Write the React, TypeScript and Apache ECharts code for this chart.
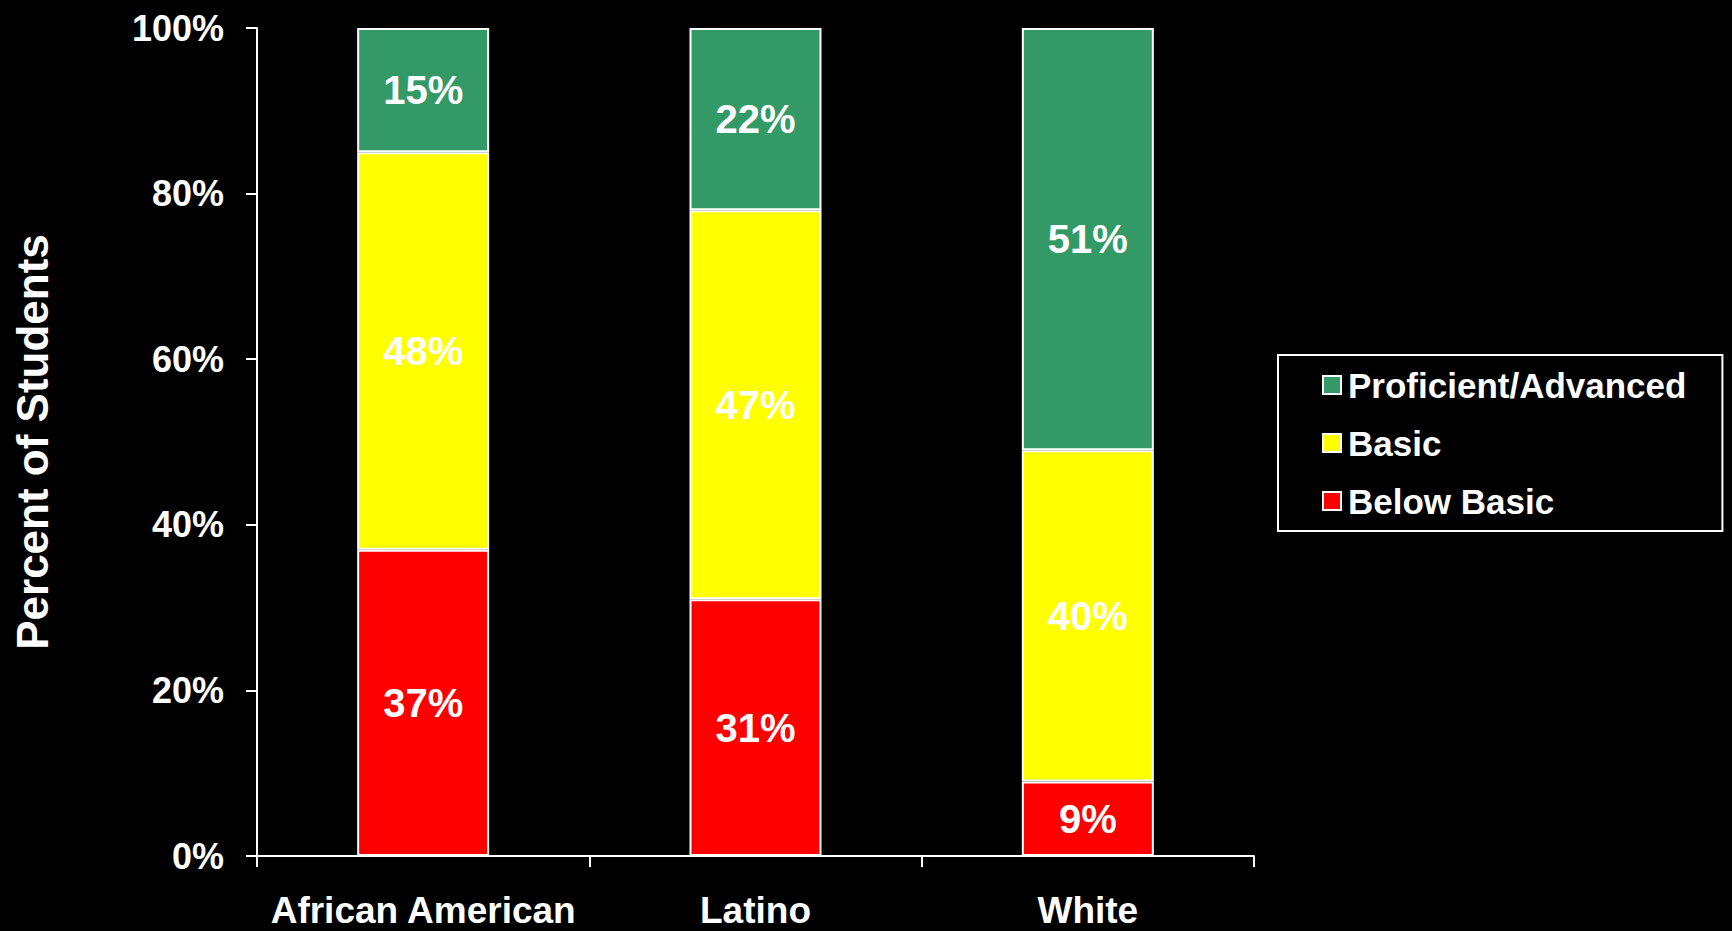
import React, { useEffect, useRef } from "react";
import * as echarts from "echarts";

const categories = ["African American", "Latino", "White"];
const belowBasic = [37, 31, 9];
const basic = [48, 47, 40];
const proficient = [15, 22, 51];
const yTicks = [0, 20, 40, 60, 80, 100];

const FONT = "'Liberation Sans', Arial, sans-serif";

export default function App() {
  const ref = useRef<HTMLDivElement>(null);
  useEffect(() => {
    document.body.style.background = "#000";
    const chart = echarts.init(ref.current!, null, { renderer: "svg" });
    const label = {
      show: true,
      position: "inside",
      color: "#fff",
      fontFamily: FONT,
      fontWeight: "bold",
      fontSize: 40,
      formatter: (p: any) => p.value + "%",
    };
    const mk = (name: string, data: number[], color: string) => ({
      name,
      type: "bar",
      stack: "total",
      data,
      barWidth: 132,
      itemStyle: { color, borderColor: "#fff", borderWidth: 2 },
      label,
    });
    chart.setOption({
      animation: false,
      backgroundColor: "#000",
      grid: { left: 257, right: 478, top: 28, bottom: 75 },
      legend: {
        orient: "vertical",
        left: 1278,
        top: 355,
        data: ["Proficient/Advanced", "Basic", "Below Basic"],
        icon: "rect",
        itemWidth: 18,
        itemHeight: 18,
        itemGap: 22,
        borderColor: "#fff",
        borderWidth: 2,
        borderRadius: 0,
        padding: [12, 36, 12, 44],
        itemStyle: { borderColor: "#fff", borderWidth: 2 },
        textStyle: {
          color: "#fff",
          fontFamily: FONT,
          fontWeight: "bold",
          fontSize: 35,
          lineHeight: 36,
          padding: [0, 0, 0, 2],
        },
      },
      xAxis: {
        type: "category",
        data: categories,
        axisLine: { lineStyle: { color: "#fff", width: 2 } },
        axisTick: { show: true, length: 11, lineStyle: { color: "#fff", width: 2 } },
        axisLabel: {
          interval: 0,
          hideOverlap: false,
          color: "#fff",
          fontFamily: FONT,
          fontWeight: "bold",
          fontSize: 37,
          margin: 36,
        },
      },
      yAxis: {
        type: "value",
        min: 0,
        max: 100,
        interval: 20,
        name: "Percent of Students",
        nameLocation: "middle",
        nameGap: 203,
        nameTextStyle: {
          color: "#fff",
          fontFamily: FONT,
          fontWeight: "bold",
          fontSize: 44,
        },
        axisLine: { show: true, lineStyle: { color: "#fff", width: 2 } },
        axisTick: { show: true, length: 11, lineStyle: { color: "#fff", width: 2 } },
        splitLine: { show: false },
        axisLabel: {
          color: "#fff",
          fontFamily: FONT,
          fontWeight: "bold",
          fontSize: 36,
          margin: 33,
          formatter: (v: number) => (yTicks.includes(v) ? v + "%" : ""),
        },
      },
      series: [
        mk("Below Basic", belowBasic, "#FF0000"),
        mk("Basic", basic, "#FFFF00"),
        mk("Proficient/Advanced", proficient, "#339966"),
      ],
    });
    return () => chart.dispose();
  }, []);
  return (
    <div
      ref={ref}
      style={{ position: "fixed", left: 0, top: 0, width: 1732, height: 931, background: "#000" }}
    />
  );
}
